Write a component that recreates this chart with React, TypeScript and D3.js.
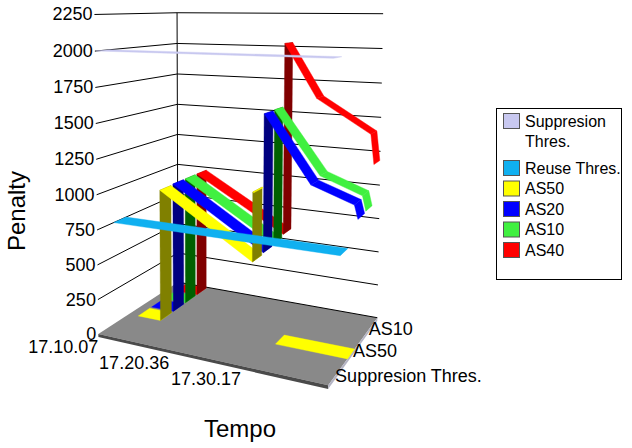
import * as d3 from "d3";

// series, front (nearest) to back
const seriesNames = ["Suppresion Thres.", "Reuse Thres.", "AS50", "AS20", "AS10", "AS40"];
const topColors = ["#c8c8f0", "#10b0f0", "#ffff00", "#0000ff", "#40f040", "#ff0000"];
const sideColors = ["#9c9cc8", "#0a84b8", "#808000", "#000080", "#006000", "#800000"];

type Pt = [string, number] | null;

const suppresion: Pt[] = [["17.10.07", 2000], ["17.40.57", 2000]];
const reuse: Pt[] = [["17.10.07", 750], ["17.40.57", 750]];
const as50: Pt[] = [
  ["17.11.37", 0], ["17.15.06", 0], ["17.15.06", 975], ["17.28.30", 550],
  ["17.28.30", 1040], ["17.28.38", 1036], null, ["17.31.42", 0], ["17.40.57", 0],
];
const as20: Pt[] = [
  ["17.11.37", 0], ["17.15.06", 0], ["17.15.06", 980], ["17.28.30", 560],
  ["17.28.30", 1555], ["17.34.52", 1085], ["17.40.29", 980], ["17.40.57", 885],
];
const as10: Pt[] = [
  ["17.11.37", 0], ["17.15.06", 0], ["17.15.06", 980], ["17.28.30", 570],
  ["17.28.30", 1560], ["17.34.52", 1110], ["17.40.29", 1000], ["17.40.57", 895],
];
const as40: Pt[] = [
  ["17.11.37", 0], ["17.15.06", 0], ["17.15.06", 980], ["17.28.30", 590],
  ["17.28.30", 2030], ["17.33.05", 1635], ["17.40.29", 1400], ["17.40.57", 1185],
];
const seriesData = [suppresion, reuse, as50, as20, as10, as40];

const yTicks = [0, 250, 500, 750, 1000, 1250, 1500, 1750, 2000, 2250];
const xTickLabels = ["17.10.07", "17.20.36", "17.30.17"];
const timeStart = "17.10.07";
const timeEnd = "17.40.57";

// box corners (u, v, w in 0..1) and where they land in the picture
const calib: [number[], number[]][] = [
  [[0, 0, 0], [98.5, 333]],
  [[0, 1, 0], [94, 15]],
  [[0, 1, 1], [177, 12.7]],
  [[0, 0, 1], [178, 284]],
  [[1, 1, 1], [383, 13.3]],
  [[1, 0, 1], [377, 316]],
  [[1, 0, 0], [328, 387]],
  [[0, 0.444, 0], [97, 194]],
  [[0, 0.444, 1], [177.5, 164]],
  [[1, 0.444, 1], [380, 185]],
  [[0, 0.889, 1], [177, 43.3]],
  [[1, 0.889, 1], [383, 49.5]],
  [[0, 0.889, 0], [95, 51]],
];

const font = "'Liberation Sans', Arial, sans-serif";

function toSeconds(s: string) {
  const [h, m, sec] = s.split(".").map(Number);
  return h * 3600 + m * 60 + sec;
}

// least squares DLT, 11 unknowns
function solveProjection(pairs: [number[], number[]][]) {
  const rows: number[][] = [];
  const rhs: number[] = [];
  pairs.forEach(([[X, Y, Z], [x, y]]) => {
    rows.push([X, Y, Z, 1, 0, 0, 0, 0, -x * X, -x * Y, -x * Z]);
    rhs.push(x);
    rows.push([0, 0, 0, 0, X, Y, Z, 1, -y * X, -y * Y, -y * Z]);
    rhs.push(y);
  });
  const n = 11;
  const M = d3.range(n).map((i) => {
    const r = d3.range(n).map((j) => d3.sum(rows, (row) => row[i] * row[j]));
    r.push(d3.sum(rows, (row, k) => row[i] * rhs[k]));
    return r;
  });
  for (let c = 0; c < n; c++) {
    let piv = c;
    for (let r = c + 1; r < n; r++) if (Math.abs(M[r][c]) > Math.abs(M[piv][c])) piv = r;
    [M[c], M[piv]] = [M[piv], M[c]];
    for (let r = 0; r < n; r++) {
      if (r === c) continue;
      const f = M[r][c] / M[c][c];
      for (let k = c; k <= n; k++) M[r][k] -= f * M[c][k];
    }
  }
  return d3.range(n).map((i) => M[i][n] / M[i][i]);
}

const P = solveProjection(calib);
const proj = (u: number, v: number, w: number): [number, number] => {
  const d = P[8] * u + P[9] * v + P[10] * w + 1;
  return [
    (P[0] * u + P[1] * v + P[2] * w + P[3]) / d,
    (P[4] * u + P[5] * v + P[6] * w + P[7]) / d,
  ];
};

const xScale = d3.scaleLinear().domain([toSeconds(timeStart), toSeconds(timeEnd)]).range([0, 1]);
const yScale = d3.scaleLinear().domain([0, 2250]).range([0, 1]);
const zScale = d3
  .scaleBand<string>()
  .domain(seriesNames)
  .range([0, 1])
  .paddingInner(0.15)
  .paddingOuter(0.075);

const poly = d3.line().curve(d3.curveLinearClosed);

export default function App() {
  const floorT = -0.01;
  const floorTop = poly([proj(0, 0, 0), proj(1, 0, 0), proj(1, 0, 1), proj(0, 0, 1)]);
  const floorFront = poly([proj(0, 0, 0), proj(1, 0, 0), proj(1, floorT, 0), proj(0, floorT, 0)]);
  const floorRight = poly([proj(1, 0, 0), proj(1, 0, 1), proj(1, floorT, 1), proj(1, floorT, 0)]);

  // ribbons, back to front
  const faces: { d: string; fill: string }[] = [];
  for (let i = seriesNames.length - 1; i >= 0; i--) {
    const w0 = zScale(seriesNames[i])!;
    const w1 = w0 + zScale.bandwidth();
    const pts = seriesData[i];
    for (let k = 0; k < pts.length - 1; k++) {
      const a = pts[k];
      const b = pts[k + 1];
      if (!a || !b) continue;
      const ua = xScale(toSeconds(a[0]));
      const ub = xScale(toSeconds(b[0]));
      const va = yScale(a[1]);
      const vb = yScale(b[1]);
      const fill = ua === ub ? sideColors[i] : topColors[i];
      faces.push({
        d: poly([proj(ua, va, w0), proj(ub, vb, w0), proj(ub, vb, w1), proj(ua, va, w1)])!,
        fill,
      });
    }
  }

  return (
    <svg
      width={632}
      height={448}
      style={{ position: "absolute", left: 0, top: 0, background: "#fff" }}
      fontFamily={font}
    >
      <path d={floorTop!} fill="#898989" />
      <path d={floorFront!} fill="#4a4a4a" />
      <path d={floorRight!} fill="#b4b4c4" />

      {yTicks.map((t) => {
        const v = yScale(t);
        const [x0, y0] = proj(0, v, 0);
        const [x1, y1] = proj(0, v, 1);
        const [x2, y2] = proj(1, v, 1);
        return (
          <g key={t}>
            {t > 0 && <line x1={x0} y1={y0} x2={x1} y2={y1} stroke="#000" strokeWidth={1} />}
            <line x1={x1} y1={y1} x2={x2} y2={y2} stroke="#000" strokeWidth={1} />
            <text x={x0 - 2} y={y0} textAnchor="end" dominantBaseline="central" fontSize={18}>
              {t}
            </text>
          </g>
        );
      })}
      {(() => {
        const [xa, ya] = proj(0, 0, 1);
        const [xb, yb] = proj(0, 1, 1);
        return <line x1={xa} y1={ya} x2={xb} y2={yb} stroke="#000" strokeWidth={1} />;
      })()}

      {faces.map((f, i) => (
        <path key={i} d={f.d} fill={f.fill} stroke={f.fill} strokeWidth={0.4} />
      ))}

      {xTickLabels.map((s) => {
        const [x, y] = proj(xScale(toSeconds(s)), 0, 0);
        return (
          <text key={s} x={x} y={y + 19} textAnchor="end" fontSize={18}>
            {s}
          </text>
        );
      })}
      {seriesNames
        .filter((_, i) => i % 2 === 0)
        .map((s) => {
          const [x, y] = proj(1, 0, zScale(s)! + zScale.bandwidth() / 2);
          return (
            <text key={s} x={x + 2} y={y - 3} dominantBaseline="central" fontSize={18}>
              {s}
            </text>
          );
        })}

      <text x={240} y={437} textAnchor="middle" fontSize={24}>
        Tempo
      </text>
      <text transform="translate(25,211) rotate(-90)" textAnchor="middle" fontSize={24}>
        Penalty
      </text>

      <rect x={496.5} y={108.5} width={125} height={171} fill="#fff" stroke="#000" />
      {seriesNames.map((s, i) => {
        const top = i === 0 ? 113 : 160 + (i - 1) * 20.5;
        const lines = i === 0 ? ["Suppresion", "Thres."] : [s];
        return (
          <g key={s}>
            <rect x={503.5} y={top + 0.5} width={16} height={15} fill={topColors[i]} stroke="#555" />
            {lines.map((l, j) => (
              <text key={l} x={525} y={top + 13.5 + j * 20} fontSize={16}>
                {l}
              </text>
            ))}
          </g>
        );
      })}
    </svg>
  );
}
